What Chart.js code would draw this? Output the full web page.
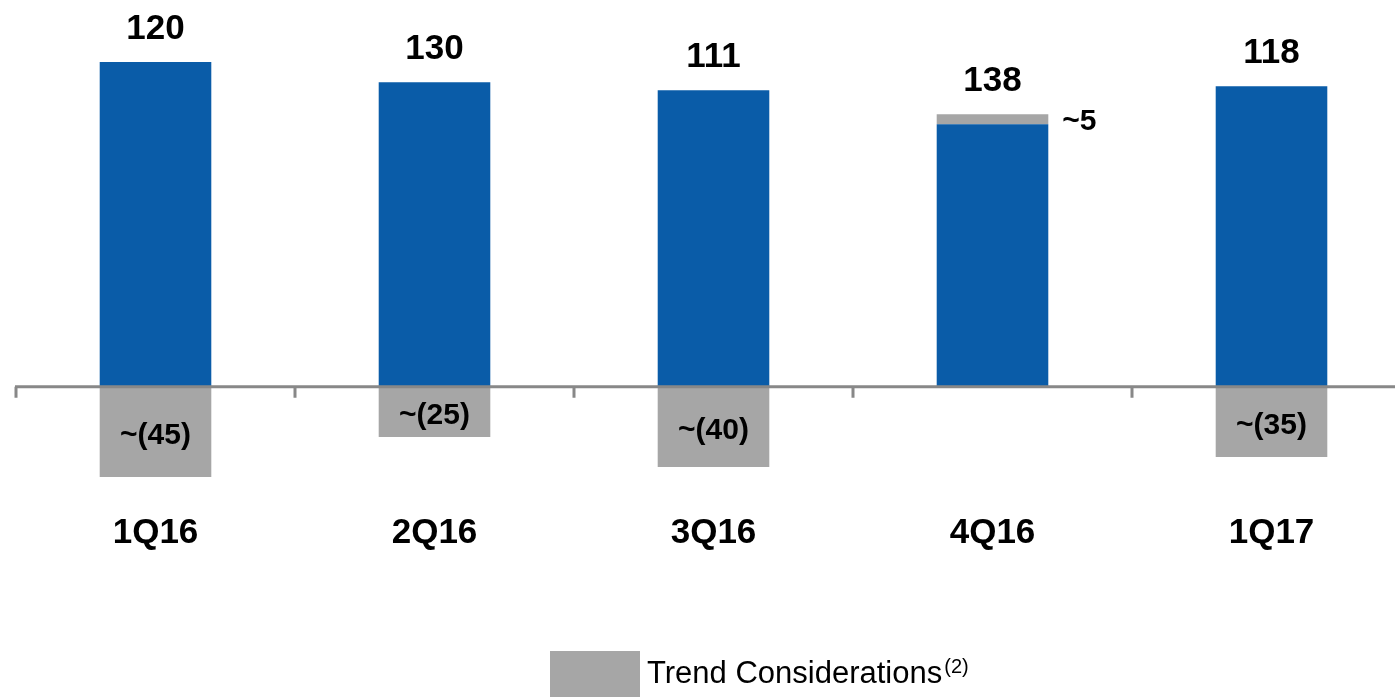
<!DOCTYPE html>
<html>
<head>
<meta charset="utf-8">
<script src="https://cdn.jsdelivr.net/npm/chart.js@4.4.0/dist/chart.umd.min.js"></script>
<style>
  html, body { margin: 0; padding: 0; background: #fff; overflow: hidden; }
  #wrap { width: 1412px; height: 697px; position: relative; }
</style>
</head>
<body>
<div id="wrap"><canvas id="chart"></canvas></div>
<script>
const quarters = ['1Q16', '2Q16', '3Q16', '4Q16', '1Q17'];
const coreValues = [162, 152, 148, 131, 150];
const trendConsiderations = [-45, -25, -40, 5, -35];
const reportedTotals = [120, 130, 111, 138, 118];
const legendText = 'Trend Considerations';
const legendNote = '(2)';

const BLUE = '#0a5ca8';
const GREY = '#a6a6a6';
const AXIS = '#888888';
const FONT = '"Liberation Sans", Arial, sans-serif';

// zero line with the little category ticks hanging under it
const zeroAxis = {
    id: 'zeroAxis',
    afterDatasetsDraw(chart) {
        const { ctx, scales: { x, y } } = chart;
        const y0 = y.getPixelForValue(0);
        const step = (x.right - x.left) / quarters.length;
        ctx.save();
        ctx.strokeStyle = AXIS;
        ctx.lineWidth = 3;
        ctx.beginPath();
        ctx.moveTo(x.left - 1, y0);
        ctx.lineTo(chart.width, y0);
        for (let i = 0; i <= quarters.length; i++) {
            const px = x.left + i * step;
            ctx.moveTo(px, y0);
            ctx.lineTo(px, y0 + 11);
        }
        ctx.stroke();
        ctx.restore();
    }
};

const barLabels = {
    id: 'barLabels',
    afterDatasetsDraw(chart) {
        const { ctx, scales: { y } } = chart;
        const blueMeta = chart.getDatasetMeta(0);
        const greyMeta = chart.getDatasetMeta(1);
        ctx.save();
        ctx.fillStyle = '#000';
        quarters.forEach((q, i) => {
            const bar = blueMeta.data[i];
            const g = greyMeta.data[i];
            const t = trendConsiderations[i];
            const topVal = coreValues[i] + Math.max(t, 0);
            ctx.font = 'bold 35px ' + FONT;
            ctx.textAlign = 'center';
            ctx.textBaseline = 'alphabetic';
            ctx.fillText(String(reportedTotals[i]), bar.x, y.getPixelForValue(topVal) - 23);

            ctx.font = 'bold 30px ' + FONT;
            if (t < 0) {
                ctx.textAlign = 'center';
                ctx.textBaseline = 'middle';
                ctx.fillText('~(' + (-t) + ')', g.x, (g.y + g.base) / 2 + 4);
            } else {
                ctx.textAlign = 'left';
                ctx.textBaseline = 'middle';
                ctx.fillText('~' + t, g.x + g.width / 2 + 14, (g.y + g.base) / 2 + 3);
            }
        });
        ctx.restore();
    }
};

const trendLegend = {
    id: 'trendLegend',
    afterDraw(chart) {
        const { ctx } = chart;
        ctx.save();
        ctx.fillStyle = GREY;
        ctx.fillRect(550, 651, 90, 46);
        ctx.fillStyle = '#000';
        ctx.textAlign = 'left';
        ctx.textBaseline = 'alphabetic';
        ctx.font = '31px ' + FONT;
        ctx.fillText(legendText, 647, 683);
        const w = ctx.measureText(legendText).width;
        ctx.font = '20px ' + FONT;
        ctx.fillText(legendNote, 647 + w + 2, 673);
        ctx.restore();
    }
};

new Chart(document.getElementById('chart'), {
    type: 'bar',
    data: {
        labels: quarters,
        datasets: [
            { label: 'Core', data: coreValues, backgroundColor: BLUE, borderWidth: 0 },
            { label: legendText, data: trendConsiderations, backgroundColor: GREY, borderWidth: 0 }
        ]
    },
    options: {
        responsive: true, maintainAspectRatio: false,
        animation: false,
        datasets: { bar: { barPercentage: 0.4, categoryPercentage: 1.0 } },
        layout: { padding: { left: 16, right: 1, top: 6, bottom: 128 } },
        plugins: { legend: { display: false }, tooltip: { enabled: false } },
        scales: {
            x: {
                stacked: true,
                grid: { display: false, drawTicks: false },
                border: { display: false },
                ticks: { color: '#000', font: { family: FONT, size: 35, weight: 'bold' }, padding: 15 }
            },
            y: {
                stacked: true, display: false,
                min: -55, max: 190
            }
        }
    },
    plugins: [zeroAxis, barLabels, trendLegend]
});
</script>
</body>
</html>
